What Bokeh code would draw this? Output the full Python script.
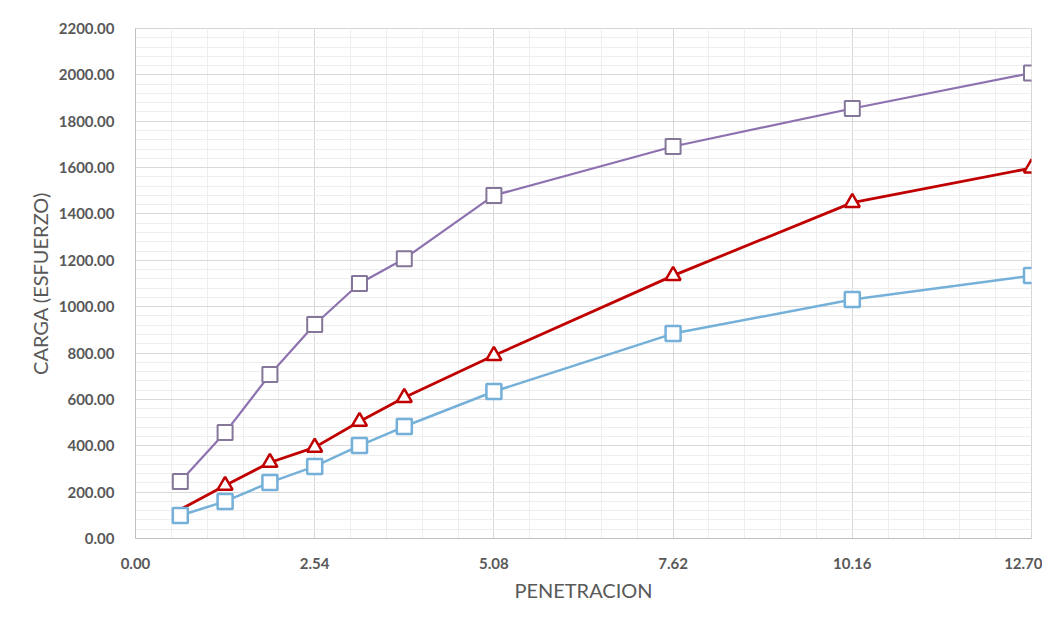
from bokeh.plotting import figure
from bokeh.models import Range1d, FixedTicker, NumeralTickFormatter
from bokeh.embed import file_html
from bokeh.resources import INLINE

penetracion = [0.635, 1.27, 1.905, 2.54, 3.175, 3.81, 5.08, 7.62, 10.16, 12.70]
carga_alta = [246, 457, 707, 923, 1100, 1207, 1480, 1691, 1855, 2008]
carga_media = [125, 229, 328, 393, 505, 608, 789, 1134, 1449, 1598]
carga_baja = [99, 160, 242, 311, 401, 483, 634, 884, 1031, 1134]

x_ticks = [0.0, 2.54, 5.08, 7.62, 10.16, 12.70]
x_minor = [i * 0.508 for i in range(26)]
y_ticks = list(range(0, 2201, 200))
y_minor = list(range(0, 2201, 40))

p = figure(width=1042, height=609, output_backend="svg", toolbar_location=None,
           x_range=Range1d(0, 12.70), y_range=Range1d(0, 2200),
           min_border_left=135, min_border_right=11, min_border_top=28, min_border_bottom=71)

p.outline_line_color = "#d6d6d6"
p.border_fill_color = "white"
p.styles = {"outline": "2px solid #e4e4e4", "outline-offset": "-4px"}

p.xaxis.ticker = FixedTicker(ticks=x_ticks, minor_ticks=x_minor)
p.yaxis.ticker = FixedTicker(ticks=y_ticks, minor_ticks=y_minor)
p.xaxis.formatter = NumeralTickFormatter(format="0.00")
p.yaxis.formatter = NumeralTickFormatter(format="0.00")

for ax in (p.xaxis, p.yaxis):
    ax.major_tick_line_color = None
    ax.minor_tick_line_color = None
    ax.axis_line_color = "#bfbfbf"
    ax.major_label_text_font = "Lato"
    ax.major_label_text_font_style = "bold"
    ax.major_label_text_font_size = "15px"
    ax.major_label_text_color = "#595959"
    ax.axis_label_text_font = "Lato"
    ax.axis_label_text_font_style = "normal"
    ax.axis_label_text_font_size = "20px"
    ax.axis_label_text_color = "#595959"

p.xaxis.axis_label = "PENETRACION"
p.yaxis.axis_label = "CARGA (ESFUERZO)"
p.xaxis.major_label_standoff = 13
p.yaxis.major_label_standoff = 15
p.xaxis.axis_label_standoff = 6
p.yaxis.axis_label_standoff = 4

for g in (p.xgrid, p.ygrid):
    g.grid_line_color = "#d9d9d9"
    g.grid_line_width = 1
    g.minor_grid_line_color = "#eeeeee"
    g.minor_grid_line_width = 1

p.xgrid.ticker = FixedTicker(ticks=x_ticks, minor_ticks=x_minor)
p.ygrid.ticker = FixedTicker(ticks=y_ticks, minor_ticks=y_minor)

purple = "#8e72b0"
red = "#c00000"
blue = "#74b0d8"

p.line(penetracion, carga_alta, line_color=purple, line_width=2.2)
p.scatter(penetracion, carga_alta, marker="square", size=15, fill_color="white",
          line_color="#85779a", line_width=2)

p.line(penetracion, carga_media, line_color=red, line_width=2.8)
p.scatter(penetracion[1:], carga_media[1:], marker="triangle", size=15, fill_color="white",
          line_color=red, line_width=2.5)

p.line(penetracion, carga_baja, line_color=blue, line_width=2.5)
p.scatter(penetracion, carga_baja, marker="square", size=15, fill_color="white",
          line_color=blue, line_width=2.5)

open("out.html", "w").write(file_html(p, INLINE))
